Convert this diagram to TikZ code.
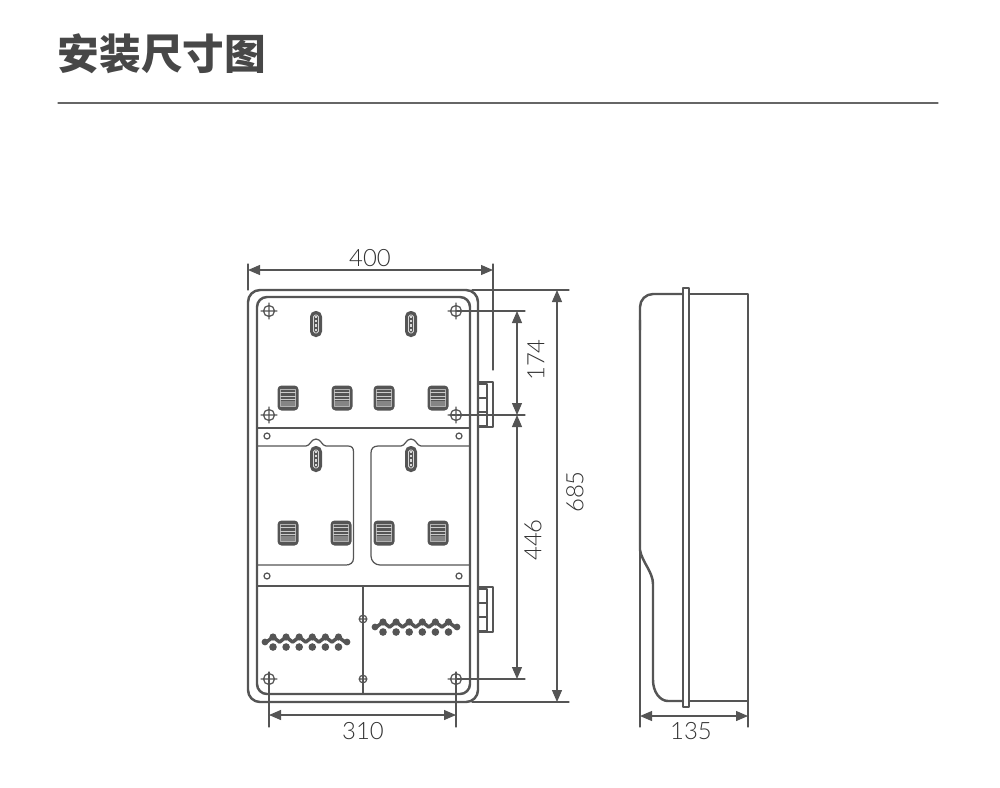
\documentclass[tikz,border=0pt]{standalone}
\usepackage{fontspec}
\newfontfamily\lightfont{Lato Light}
\newfontfamily\cjkbold{Noto Sans CJK SC Black}
\usetikzlibrary{arrows.meta}
\definecolor{inkgray}{HTML}{555555}
\tikzset{
  body/.style={draw=inkgray,line width=1.4pt,line join=round},
  thin line/.style={draw=inkgray,line width=0.7pt},
  dim/.style={draw=inkgray,line width=0.7pt,{Triangle[length=2.4mm,width=2mm]}-{Triangle[length=2.4mm,width=2mm]}},
  dimtext/.style={text=black!80,font=\lightfont\fontsize{13.6}{14}\selectfont,inner sep=0pt},
}
\begin{document}
\begin{tikzpicture}[x=0.2mm,y=-0.2mm,line cap=round,line join=round]
      \useasboundingbox (0,0) rectangle (1000,787);
      \node[text=black!72,font=\cjkbold\fontsize{23.7}{24}\selectfont,inner sep=0pt] (title) at (162,54) {安装尺寸图};
      \draw[black!60,line width=0.7pt] (58,103) coordinate (ruleL) -- (938,103) coordinate (ruleR);

      % front view
      \draw[body] (248,290) coordinate (TL) [rounded corners=12pt*0.569] -- (478,290) -- (478,702) -- (248,702) -- cycle;
      \draw[body] (257,297) [rounded corners=10pt*0.569] -- (470,297) -- (470,694) -- (257,694) -- cycle;
      \draw[thin line] (257,428) -- (470,428) (257,586) -- (470,586) (363,586) -- (363,694);
      \draw[thin line] (257,446) -- (306,446) .. controls (310,446) and (311,439) .. (316,439) .. controls (321,439) and (322,446) .. (326,446) -- (348,446) .. controls (352,446) and (353.5,448) .. (353.5,452) -- (353.5,558) .. controls (353.5,563) and (350,565) .. (346,565) -- (257,565);
      \draw[thin line] (470,446) -- (421,446) .. controls (417,446) and (416,439) .. (411,439) .. controls (406,439) and (405,446) .. (401,446) -- (378,446) .. controls (373,446) and (371,449) .. (371,453) -- (371,556) .. controls (371,561) and (375,565) .. (380,565) -- (470,565);

      % small holes
      \foreach \hx/\hy in {267/436,459/436,267/576,459/576}
        \draw[thin line] (\hx,\hy) circle (3);
      % fixing holes
      \foreach \hx/\hy in {269/311,456/311,269/415,456/415}
        \draw[thin line] (\hx,\hy) circle (5.5) (\hx-8,\hy) -- (\hx+8,\hy) (\hx,\hy-8) -- (\hx,\hy+8);
      \foreach \hx in {269,456}
        \draw[thin line] (\hx,679) circle (5.5) (\hx-8,679) -- (\hx+8,679);
      \foreach \hy in {619,679}
        \draw[thin line] (363,\hy) circle (3.8) (359,\hy) -- (367,\hy);

      % slots
      \foreach \sx/\sy in {316/324,411/324,316/459,411/459} {
        \fill[inkgray,rounded corners=5.5pt*0.569] (\sx-6,\sy-13) rectangle (\sx+6,\sy+13);
        \draw[black!15,line width=0.5pt,rounded corners=1pt] (\sx-2.5,\sy-9) rectangle (\sx+2.5,\sy+9);
        \draw[black!15,line width=0.9pt,dash pattern=on 1.2pt off 1.2pt,line cap=butt] (\sx,\sy-8) -- (\sx,\sy+8);
      }
      % vents
      \foreach \vx/\vy in {288/398,342/398,384/398,438/398,288/533,341/533,384/533,438/533} {
        \fill[inkgray,rounded corners=4pt*0.569] (\vx-10.5,\vy-12.5) rectangle (\vx+10.5,\vy+12.5);
        \fill[black!48] (\vx-7,\vy+3) rectangle (\vx+7,\vy+8);
        \draw[black!30,line width=0.4pt] (\vx-7.5,\vy+8.5) -- (\vx-7.5,\vy-8.5) -- (\vx+7.5,\vy-8.5) -- (\vx+7.5,\vy+8.5) -- cycle;
        \foreach \dy in {-5.5,-2,1.5}
          \draw[black!20,line width=0.55pt] (\vx-7.5,\vy+\dy) -- (\vx+7.5,\vy+\dy);
      }
      % terminal strips
      \foreach \sx/\sy in {273/642,383/627} {
        \fill[inkgray] (\sx-8,\sy) circle (3.4) (\sx+74,\sy) circle (3.4);
        \foreach \i in {0,...,5} {
          \pgfmathsetmacro{\termx}{\sx+13.1*\i}
          \draw[inkgray,line width=2pt] (\termx-6.5,\sy) -- (\termx,\sy-5) -- (\termx+6.5,\sy);
          \fill[inkgray] (\termx,\sy-5) circle (3.6);
          \fill[inkgray] (\termx,\sy+5) circle (3.8);
        }
      }

      % clips on the right
      \foreach \cy in {382,587} {
        \draw[thin line] (478,\cy) rectangle (493,\cy+45);
        \draw[body] (478,\cy+2) -- (487,\cy+2) -- (487,\cy+44) -- (478,\cy+44) (478,\cy+16) -- (487,\cy+16) (478,\cy+30) -- (487,\cy+30);
      }

      % side view
      \draw[body,rounded corners=13pt*0.569] (683,294) -- (640,294) -- (640,330);
      \draw[body] (640,320) -- (640,550) .. controls (642,562) and (653,572) .. (653,584) -- (653,680) .. controls (653,692) and (660,701) .. (668,701) -- (683,701);
      \draw[body] (689,294) -- (748,294) -- (748,701) -- (689,701);
      \draw[body] (683,288) rectangle (689,707);

      % extension lines
      \draw[thin line] (248,264) -- (248,290) (493,264) -- (493,370);
      \draw[thin line] (472,290) -- (569,290) (472,702) -- (569,702);
      \draw[thin line] (456,311) -- (525,311) (450,415) -- (525,415) (456,679) -- (525,679);
      \draw[thin line] (269,672) -- (269,727) (456,672) -- (456,727);
      \draw[thin line] (640,550) -- (640,727) (748,701) -- (748,727);

      % dimensions
      \draw[dim] (248,270) -- (493,270);
      \draw[dim] (269,715) -- (456,715);
      \draw[dim] (640,716) -- (748,716);
      \draw[dim] (557,290) -- (557,702);
      \draw[dim] (517,311) -- (517,415);
      \draw[dim] (517,415) -- (517,679);
      \node[dimtext] (w400) at (370,258) {400};
      \node[dimtext] (w310) at (363,731) {310};
      \node[dimtext] (w135) at (691,731) {135};
      \node[dimtext,rotate=90] (h174) at (536,360) {174};
      \node[dimtext,rotate=90] (h446) at (533,540) {446};
      \node[dimtext,rotate=90] (h685) at (575,492) {685};
\end{tikzpicture}
\end{document}
